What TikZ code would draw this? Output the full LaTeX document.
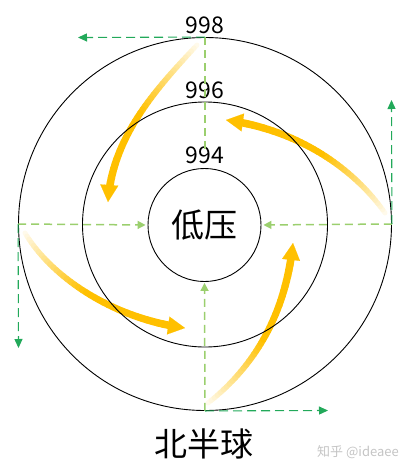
\documentclass[tikz,border=0pt]{standalone}
\usepackage{fontspec}
\setmainfont{Noto Sans CJK SC}
\usetikzlibrary{arrows.meta}
\definecolor{gold}{HTML}{FFC000}
\definecolor{lgreen}{HTML}{9BCF6E}
\definecolor{dgreen}{HTML}{22A95A}
\definecolor{wm}{HTML}{C4C4C4}
\tikzset{
  ring/.style={circle, draw=black, line width=0.9pt, inner sep=0pt},
  radial/.style={lgreen, dash pattern=on 8pt off 5pt, line width=1.5pt, -{Triangle[length=8pt,width=8pt]}},
  radialplain/.style={lgreen, dash pattern=on 8pt off 5pt, line width=1.5pt},
  tangent/.style={dgreen, dash pattern=on 9pt off 5pt, line width=1.1pt, -{Triangle[length=9pt,width=8pt]}},
  isobar/.style={font=\fontsize{23}{23}\selectfont, inner sep=0pt},
  bigtext/.style={font=\fontsize{33}{33}\selectfont, inner sep=0pt},
  wmark/.style={font=\fontsize{13}{13}\selectfont, text=wm, inner sep=0pt},
}
\newcommand\goldarrow[4]{%
  \foreach \kk [evaluate=\kk as \tq using \kk/40] in {0,...,40}{%
    \path #1 .. controls #2 and #3 .. #4 coordinate[pos=\tq] (q\kk);}%
  \foreach \kk [evaluate=\kk as \jj using int(\kk+1), evaluate=\kk as \cc using {min(100,8+\kk*4.6)}, evaluate=\kk as \ww using 5+\kk*0.07] in {0,...,36}{%
    \draw[line width=\ww pt, line cap=round, color=gold!\cc!white] (q\kk) -- (q\jj);}%
  \draw[gold, line width=0.1pt, -{Triangle[length=17pt,width=18pt]}] (q39) -- (q40);%
}
\begin{document}
\begin{tikzpicture}[x=1pt,y=-1pt]
\useasboundingbox (0,0) rectangle (412,472);
% yellow flow arrows (below the circles)
\goldarrow{(197,45)}{(160,85)}{(112,135)}{(108,202)}
\goldarrow{(385,213)}{(355,170)}{(300,130)}{(226,120)}
\goldarrow{(25,233)}{(50,275)}{(110,318)}{(185,328)}
\goldarrow{(208,403)}{(250,370)}{(285,320)}{(293,243)}
% isobars
\node[ring, minimum size=373pt] (outer) at (205,224) {};
\node[ring, minimum size=245pt] (middle) at (205,224.5) {};
\node[ring, minimum size=113pt, bigtext] (inner) at (204.5,225) {低压};
% labels
\node[isobar] (l998) at (205,25) {998};
\node[isobar] (l996) at (205,90) {996};
\node[isobar] (l994) at (205,155.5) {994};
\node[bigtext] (nh) at (204,444) {北半球};
\node[wmark] (wmk) at (358,452) {知乎 @ideaee};
% pressure gradient force (radial)
\coordinate (topend) at (205,154);
\draw[radialplain] (outer.north) -- (topend);
\draw[radial, shorten >=2pt] (outer.west) -- (inner.west);
\draw[radial, shorten >=2pt] (outer.east) -- (inner.east);
\draw[radial, shorten >=1pt] (outer.south) -- (inner.south);
% tangential (geostrophic) directions
\coordinate (tTop) at (78,37.5);
\coordinate (tRight) at (391.5,100);
\coordinate (tLeft) at (18.5,348);
\coordinate (tBottom) at (328,410.5);
\draw[tangent] (outer.north) -- (tTop);
\draw[tangent] (outer.east) -- (tRight);
\draw[tangent] (outer.west) -- (tLeft);
\draw[tangent] (outer.south) -- (tBottom);
\end{tikzpicture}
\end{document}
